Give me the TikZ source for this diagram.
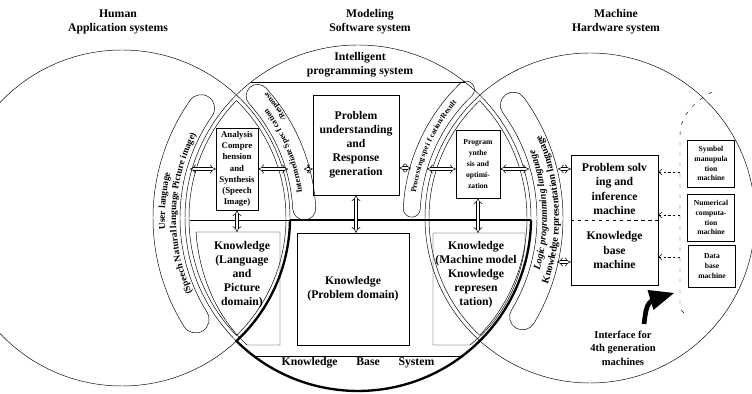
\documentclass[tikz,border=0pt]{standalone}
\usepackage{fontspec}
\setmainfont{Liberation Serif}
\usepackage{tikz}
\usetikzlibrary{arrows}
\usetikzlibrary{arrows.meta, positioning, calc, decorations.text}

\newlength{\pxu}
\setlength{\pxu}{0.03cm}

% band with round ends along an arc: centre, inner r, outer r, from, to
\newcommand{\arcband}[5]{%
  \draw (#1) ++(#4:#3) arc[start angle=#4, end angle=#5, radius=#3]
    arc[start angle=#5, end angle=#5+180, radius={(#3-#2)/2}]
    arc[start angle=#5, end angle=#4, radius=#2]
    arc[start angle=#4+180, end angle=#4+360, radius={(#3-#2)/2}] -- cycle;}

\begin{document}
\begin{tikzpicture}[x=0.03cm, y=0.03cm, font=\bfseries,
    box/.style={draw, inner sep=0pt, align=center},
    sbox/.style={box, minimum width=47\pxu, font=\fontsize{6.5}{8.4}\selectfont\bfseries},
    dbl/.style={double, double distance=2.2pt, line width=0.45pt, {Implies}-{Implies}},
    kbline/.style={line width=2pt},
    tipline/.style={dash pattern=on 2pt off 2pt, -{Straight Barb[length=3pt,width=5pt]}},
    bandtext/.style={decorate, decoration={text along path, text align=center, text={#1}}}
  ]
  \useasboundingbox (0,0) rectangle (752,394);
  \clip (0,0) rectangle (752,394);

  \coordinate (L) at (122,176);
  \coordinate (C) at (358,176);
  \coordinate (R) at (590,176);

  % the three systems
  \draw (L) circle[radius=168];
  \draw (C) circle[radius=173];
  \draw (R) circle[radius=165];

  % double lines of the overlaps
  \begin{scope}
    \clip (C) circle[radius=169];
    \draw (L) circle[radius=164];
    \draw (R) circle[radius=161];
  \end{scope}
  \begin{scope}
    \clip (L) circle[radius=164];
    \draw (C) circle[radius=169];
  \end{scope}
  \begin{scope}
    \clip (R) circle[radius=161];
    \draw (C) circle[radius=169];
  \end{scope}

  \node[align=center] (human) at (118,372) {Human\\Application systems};
  \node[align=center] (model) at (370,372) {Modeling\\Software system};
  \node[align=center] (mach) at (616,372) {Machine\\Hardware system};

  \draw (251.1,312) -- (464.9,312);
  \node[align=center] (ips) at (360,329) {Intelligent\\programming system};

  % knowledge base system
  \draw (190,174) -- (290,174);
  \draw[kbline] (290,174) -- (531,174);
  \draw[kbline] (L) ++(-0.7:168) arc[start angle=-0.7, end angle=-47.07, radius=168]
      arc[start angle=225.33, end angle=359.34, radius=173];
  \draw (254,38) -- (462,38);
  \node (kbs) at (358,31) {Knowledge\hspace{16pt}Base\hspace{16pt}System};

  % boxes
  \node[box, minimum width=86\pxu, minimum height=100\pxu] (pu) at (356,249) {Problem\\understanding\\and\\Response\\generation};
  \node[box, minimum width=42\pxu, minimum height=82\pxu, font=\fontsize{7.5}{9.6}\selectfont\bfseries] (an) at (237,225) {Analysis\\Compre\\hension\\and\\Synthesis\\(Speech\\Image)};
  \node[box, minimum width=44\pxu, minimum height=68\pxu, font=\fontsize{6.5}{9.4}\selectfont\bfseries] (pg) at (478,230) {Program\\ynthe\\sis and\\optimi-\\zation};
  \node[box, minimum width=87\pxu, minimum height=130\pxu] (pm) at (614.5,174) {};
  \node[align=center, font=\fontsize{10}{12.3}\selectfont\bfseries] (ps) at (614.5,205) {Problem solv\\ing and\\inference\\machine};
  \node[align=center, font=\fontsize{10}{12.3}\selectfont\bfseries] (kb) at (614.5,144) {Knowledge\\base\\machine};
  \draw[dashed] (pm.west) -- (pm.east);

  \node[sbox, minimum height=47\pxu] (sym) at (711,230.5) {Symbol\\manupula\\tion\\machine};
  \node[sbox, minimum height=47\pxu] (num) at (711,176.5) {Numerical\\computa-\\tion\\machine};
  \node[sbox, minimum height=42\pxu] (dat) at (712,128) {Data\\base\\machine};

  \node[box, minimum width=112\pxu, minimum height=112\pxu] (kp) at (353,105) {Knowledge\\(Problem domain)};
  \draw (280,162) -- (196,162) .. controls (200,110) and (222,72) .. (247,49) -- (280,49) -- cycle;
  \node[align=center] (kl) at (242,119.5) {Knowledge\\(Language\\and\\Picture\\domain)};
  \draw (525,149) -- (525,161) -- (433,161) -- (433,49) -- (470,49) .. controls (497,70) and (520,105) .. (525,149);
  \node[align=center] (km) at (476,119) {Knowledge\\(Machine model\\Knowledge\\represen\\tation)};
  \coordinate (klt) at (237,162);
  \coordinate (kmt) at (478,161);

  % interface bands
  \arcband{C}{178}{205}{145}{212}
  \arcband{C}{179}{205}{-31}{36}
  \arcband{L}{171}{194}{3}{42}
  \arcband{R}{170}{187}{134}{177}
  \path[bandtext={|\fontsize{8}{9}\selectfont\bfseries|User language}] (C) ++(192:193) arc[start angle=192, end angle=158, radius=193];
  \path[bandtext={|\fontsize{8}{9}\selectfont\bfseries|(Speech Natural language Picture image)}] (C) ++(211:182) arc[start angle=211, end angle=146, radius=182];
  \path[bandtext={|\fontsize{8.5}{9}\selectfont\bfseries\itshape|Logic programming language}] (C) ++(-30:189) arc[start angle=-30, end angle=35, radius=189];
  \path[bandtext={|\fontsize{8.5}{9}\selectfont\bfseries|Knowledge representation language}] (C) ++(-30:201) arc[start angle=-30, end angle=35, radius=201];
  \path[bandtext={|\fontsize{7}{8}\selectfont\bfseries|Intermediate Spec f cation}] (L) ++(3:182) arc[start angle=3, end angle=42, radius=182];
  \path[decorate, decoration={text along path, text align=right, text={|\fontsize{6.5}{7}\selectfont\bfseries|/Response}}] (L) ++(20:192) arc[start angle=20, end angle=41, radius=192];
  \path[bandtext={|\fontsize{6.5}{7}\selectfont\bfseries|Processing spe i f cation/Result}] (R) ++(177:176) arc[start angle=177, end angle=134, radius=176];

  % links
  \coordinate (u1) at (190,225);
  \coordinate (u2) at (288,225);
  \coordinate (u3) at (304,225);
  \coordinate (u4) at (411,226);
  \coordinate (u5) at (427,225);
  \coordinate (u6) at (529,225);
  \coordinate (u7) at (558,225);
  \coordinate (u8) at (557,132);
  \draw[dbl] (u1) -- (an.west);
  \draw[dbl] (an.east) -- (u2);
  \draw[dbl] (u3) -- (pu.west |- u3);
  \draw[dbl] (pu.east |- u4) -- (u4);
  \draw[dbl] (u5) -- (pg.west |- u5);
  \draw[dbl] (pg.east |- u6) -- (u6);
  \draw[dbl] (u7) -- (pm.west |- u7);
  \draw[dbl] (u8) -- (pm.west |- u8);
  \draw[dbl] (an.south) -- (klt);
  \draw[dbl] (pu.south) -- (pu.south |- kp.north);
  \draw[dbl] (pg.south) -- (kmt);

  % 4th generation interface
  \draw[dash pattern=on 3pt off 6pt] (712,302) .. controls (690,290) and (680,275) .. (680,259) -- (680,89) .. controls (680,85) .. (684,81);
  \coordinate (t1) at (680,222);
  \coordinate (t2) at (680,179);
  \coordinate (t3) at (680,137);
  \draw[tipline] (t1) -- (t1 -| pm.east);
  \draw[tipline] (t2) -- (t2 -| pm.east);
  \draw[tipline] (t3) -- (t3 -| pm.east);
  \coordinate (ar0) at (644,70);
  \coordinate (ar1) at (674,101);
  \draw[line width=4pt, -triangle 45] (ar0) .. controls (647,93) .. (ar1);
  \node[align=center, font=\fontsize{9}{11.5}\selectfont\bfseries] (itf) at (623,46) {Interface for\\4th generation\\machines};
\end{tikzpicture}
\end{document}
